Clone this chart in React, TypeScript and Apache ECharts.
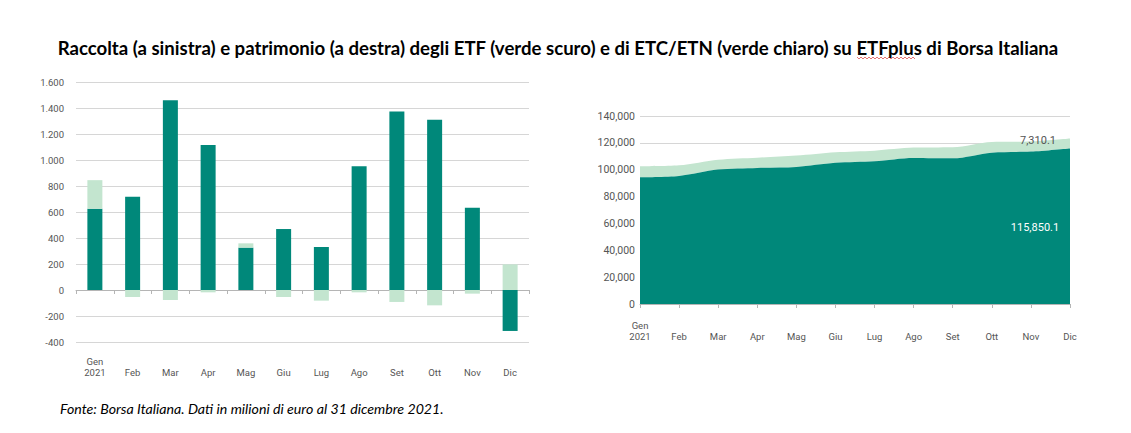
import React, { useEffect, useRef } from "react";
import * as echarts from "echarts";

const months = ["Gen\n2021", "Feb", "Mar", "Apr", "Mag", "Giu", "Lug", "Ago", "Set", "Ott", "Nov", "Dic"];

// Raccolta (flows), milioni di euro
const flowETF = [625, 718, 1459, 1115, 326, 469, 331, 951, 1374, 1310, 633, -315];
const flowETC = [220, -54, -77, -18, 33, -54, -82, -18, -92, -118, -28, 197];

// Patrimonio (assets), milioni di euro
const aumETF = [94400, 95400, 100100, 101350, 102100, 105100, 106300, 108800, 108500, 112700, 113500, 115850.1];
const aumETC = [8200, 7900, 7400, 7650, 8400, 7900, 7900, 7700, 8200, 8000, 7500, 7310.1];

const leftTicks = [-400, 1600, 200];
const rightTicks = [0, 140000, 20000];

const DARK = "#00887a";
const LIGHT = "#c3e5cf";
const AXIS_TXT = "#555555";

const fmtIt = (v: number) => {
  const s = Math.abs(v).toString().replace(/\B(?=(\d{3})+(?!\d))/g, ".");
  return (v < 0 ? "-" : "") + s;
};
const fmtEn = (v: number) => v.toLocaleString("en-US");
const fmtEn1 = (v: number) => v.toLocaleString("en-US", { minimumFractionDigits: 1, maximumFractionDigits: 1 });

export default function App() {
  const ref = useRef<HTMLDivElement>(null);
  useEffect(() => {
    document.body.style.margin = "0";
    const chart = echarts.init(ref.current!, undefined, { renderer: "svg" });
    const last = months.length - 1;
    const wave: number[][] = [];
    for (let i = 0; i <= 29; i++) wave.push([857 + i * 2, i % 2 === 0 ? 57 : 59]);
    chart.setOption({
      animation: false,
      backgroundColor: "#ffffff",
      textStyle: { fontFamily: "Roboto" },
      title: [
        {
          text: "Raccolta (a sinistra) e patrimonio (a destra) degli ETF (verde scuro) e di ETC/ETN (verde chiaro) su ETFplus di Borsa Italiana",
          left: 553,
          top: 33,
          textAlign: "center",
          textStyle: { fontFamily: "Lato", fontWeight: "bold", fontSize: 18.6, color: "#000" },
        },
        {
          text: "Fonte: Borsa Italiana. Dati in milioni di euro al 31 dicembre 2021.",
          left: 55,
          top: 396,
          textStyle: { fontFamily: "Lato", fontStyle: "italic", fontWeight: "normal", fontSize: 14.2, color: "#000" },
        },
      ],
      graphic: [
        { type: "polyline", shape: { points: wave }, style: { stroke: "#e05050", lineWidth: 0.8, fill: "none" } },
      ],
      grid: [
        { left: 76, top: 82, width: 453, height: 260 },
        { left: 640, top: 116, width: 430, height: 188 },
      ],
      xAxis: [
        {
          gridIndex: 0,
          type: "category",
          data: months,
          axisLine: { onZero: true, lineStyle: { color: "#b5b5b5" } },
          axisTick: { show: true, length: 4, lineStyle: { color: "#b5b5b5" } },
          axisLabel: { show: false },
        },
        {
          gridIndex: 0,
          type: "category",
          data: months,
          position: "bottom",
          axisLine: { show: false, onZero: false },
          axisTick: { show: false },
          axisLabel: { color: AXIS_TXT, fontSize: 9.5, margin: 36, verticalAlign: "bottom", lineHeight: 11, interval: 0 },
        },
        {
          gridIndex: 1,
          type: "category",
          data: months,
          boundaryGap: false,
          axisLine: { lineStyle: { color: "#b5b5b5" } },
          axisTick: { show: true, length: 4, lineStyle: { color: "#b5b5b5" } },
          axisLabel: { color: AXIS_TXT, fontSize: 9.5, margin: 38, verticalAlign: "bottom", lineHeight: 11, interval: 0 },
        },
      ],
      yAxis: [
        {
          gridIndex: 0,
          type: "value",
          min: leftTicks[0],
          max: leftTicks[1],
          interval: leftTicks[2],
          axisLine: { show: false },
          axisTick: { show: false },
          splitLine: { lineStyle: { color: "#d6d6d6" } },
          axisLabel: { color: AXIS_TXT, fontSize: 9.5, margin: 12, formatter: (v: number) => fmtIt(v) },
        },
        {
          gridIndex: 1,
          type: "value",
          min: rightTicks[0],
          max: rightTicks[1],
          interval: rightTicks[2],
          axisLine: { show: false },
          axisTick: { show: false },
          splitLine: { lineStyle: { color: "#d6d6d6" } },
          axisLabel: { color: AXIS_TXT, fontSize: 10.5, margin: 5, formatter: (v: number) => fmtEn(v) },
        },
      ],
      series: [
        {
          name: "ETF raccolta",
          type: "bar",
          xAxisIndex: 0,
          yAxisIndex: 0,
          stack: "flow",
          barWidth: 15,
          data: flowETF,
          itemStyle: { color: DARK },
        },
        {
          name: "ETC/ETN raccolta",
          type: "bar",
          xAxisIndex: 0,
          yAxisIndex: 0,
          stack: "flow",
          barWidth: 15,
          data: flowETC,
          itemStyle: { color: LIGHT },
        },
        {
          name: "ETF patrimonio",
          type: "line",
          xAxisIndex: 2,
          yAxisIndex: 1,
          stack: "aum",
          data: aumETF,
          smooth: 0.3,
          symbol: "none",
          lineStyle: { width: 0 },
          areaStyle: { color: DARK, opacity: 1 },
          markPoint: {
            symbol: "circle",
            symbolSize: 0,
            data: [
              {
                coord: [last, aumETF[last]],
                label: {
                  show: true,
                  formatter: fmtEn1(aumETF[last]),
                  color: "#ffffff",
                  fontSize: 11,
                  offset: [-35, 79],
                },
              },
            ],
          },
          z: 3,
        },
        {
          name: "ETC/ETN patrimonio",
          type: "line",
          xAxisIndex: 2,
          yAxisIndex: 1,
          stack: "aum",
          data: aumETC,
          smooth: 0.3,
          symbol: "none",
          lineStyle: { width: 0 },
          areaStyle: { color: LIGHT, opacity: 1 },
          markPoint: {
            symbol: "circle",
            symbolSize: 0,
            data: [
              {
                coord: [last, aumETF[last] + aumETC[last]],
                label: {
                  show: true,
                  formatter: fmtEn1(aumETC[last]),
                  color: "#555555",
                  fontSize: 11,
                  offset: [-32, 2],
                },
              },
            ],
          },
          z: 2,
        },
      ],
    });
    return () => chart.dispose();
  }, []);
  return <div ref={ref} style={{ position: "absolute", left: 0, top: 0, width: 1131, height: 433 }} />;
}
